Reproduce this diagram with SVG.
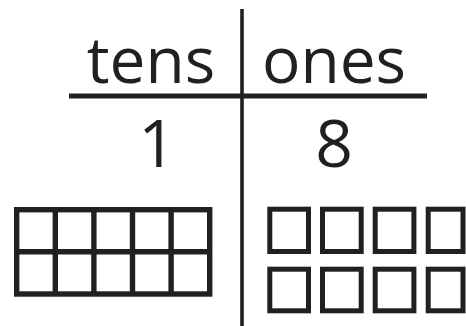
<svg xmlns="http://www.w3.org/2000/svg" width="466" height="326" viewBox="0 0 466 326">
<style>
.t{font-family:"Open Sans","Noto Sans","Liberation Sans",sans-serif;fill:#231f20;}
.ln{stroke:#231f20;fill:none;}
.box{stroke:#231f20;stroke-width:5;fill:none;}
</style>
<rect width="466" height="326" fill="#fff"/>
<g id="chart">
<line class="ln" x1="242" y1="9" x2="242" y2="326" stroke-width="3.6"/>
<line class="ln" x1="69" y1="96" x2="427" y2="96" stroke-width="5"/>
</g>
<g id="labels">
<text class="t" x="151" y="83" font-size="64" text-anchor="middle">tens</text>
<text class="t" x="334" y="83" font-size="64" text-anchor="middle">ones</text>
<text class="t" x="157" y="167" font-size="66" text-anchor="middle">1</text>
<text class="t" x="334" y="167" font-size="66" text-anchor="middle">8</text>
</g>
<g id="tens-frame">
<rect x="16.7" y="209.7" width="193" height="84.3" stroke="#231f20" stroke-width="5.4" fill="none"/>
<g class="ln" stroke-width="5.4">
<line x1="16.7" y1="251.7" x2="209.7" y2="251.7"/>
<line x1="55.3" y1="209.7" x2="55.3" y2="294"/>
<line x1="93.9" y1="209.7" x2="93.9" y2="294"/>
<line x1="132.5" y1="209.7" x2="132.5" y2="294"/>
<line x1="171.1" y1="209.7" x2="171.1" y2="294"/>
</g>
</g>
<g id="ones-squares">
<rect class="box" x="269.8" y="209.2" width="38.7" height="42.3"/>
<rect class="box" x="322.5" y="209.2" width="38.7" height="42.3"/>
<rect class="box" x="375.2" y="209.2" width="38.7" height="42.3"/>
<rect class="box" x="428.2" y="209.2" width="34.8" height="42.3"/>
<rect class="box" x="269.8" y="269.2" width="38.7" height="41.6"/>
<rect class="box" x="322.5" y="269.2" width="38.7" height="41.6"/>
<rect class="box" x="375.2" y="269.2" width="38.7" height="41.6"/>
<rect class="box" x="428.2" y="269.2" width="34.8" height="41.6"/>
</g>
</svg>
